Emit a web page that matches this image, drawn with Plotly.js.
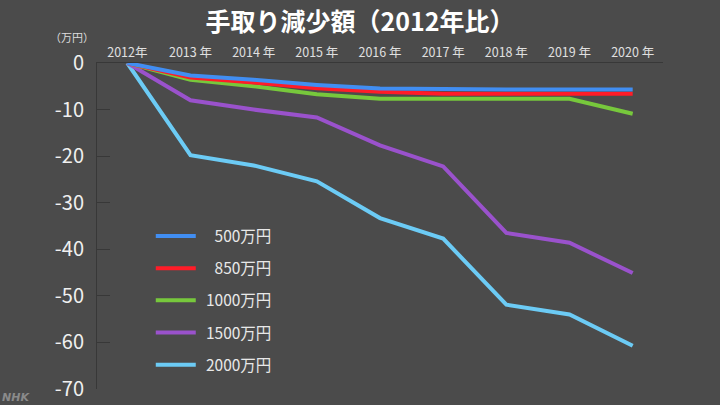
<!DOCTYPE html>
<html>
<head>
<meta charset="utf-8">
<script src="https://cdn.plot.ly/plotly-3.0.1.min.js"></script>
<style>html,body{margin:0;padding:0;background:#4b4b4b;}#chart{width:720px;height:405px;}</style>
</head>
<body>
<div id="chart"></div>
<script>
const years = [2012, 2013, 2014, 2015, 2016, 2017, 2018, 2019, 2020];
const yearLabels = ["2012年", "2013 年", "2014 年", "2015 年", "2016 年", "2017 年", "2018 年", "2019 年", "2020 年"];
const seriesNames = ["\u2004\u2007500万円", "\u2004\u2007850万円", "\u20041000万円", "\u20041500万円", "\u20042000万円"];
const income500 = [0, -2.7, -3.6, -4.7, -5.5, -5.7, -5.7, -5.7, -5.7];
const income850 = [0, -3.1, -4.2, -5.4, -6.2, -6.6, -6.6, -6.6, -6.6];
const income1000 = [0, -3.6, -5.0, -6.7, -7.7, -7.7, -7.8, -7.7, -10.9];
const income1500 = [0, -8.0, -10.0, -11.7, -17.7, -22.2, -36.5, -38.6, -45.1];
const income2000 = [0, -19.8, -22.0, -25.4, -33.3, -37.7, -51.9, -54.0, -60.7];
const yTicks = [0, -10, -20, -30, -40, -50, -60, -70];

const seriesValues = [income500, income850, income1000, income1500, income2000];
const colors = ["#418ef2", "#ff1c28", "#77c83c", "#9a52cc", "#6ccbf5"];

const traces = [];
for (let i = seriesValues.length - 1; i >= 0; i--) {
  traces.push({
    x: years,
    y: seriesValues[i],
    type: "scatter",
    mode: "lines",
    name: seriesNames[i],
    legendgroup: "g" + i,
    legendrank: i + 1,
    line: {color: colors[i], width: 4},
    hoverinfo: "skip"
  });
}

const layout = {
  width: 720,
  height: 405,
  paper_bgcolor: "#4b4b4b",
  plot_bgcolor: "#4b4b4b",
  margin: {l: 97, r: 57, t: 63, b: 16},
  font: {family: "'Noto Sans CJK JP', 'Noto Sans', sans-serif", color: "#e8e8e8"},
  title: {
    text: "<b>手取り減少額（2012年比）</b>",
    font: {size: 25, color: "#ffffff", family: "'Noto Sans CJK JP', sans-serif"},
    xref: "container", x: 0.5, xanchor: "center",
    yref: "container", y: 0.945, yanchor: "middle"
  },
  xaxis: {
    side: "top",
    range: [2011.52, 2020.48],
    tickvals: years,
    ticktext: yearLabels,
    ticks: "",
    showgrid: false,
    zeroline: false,
    showline: true,
    linecolor: "#383838",
    linewidth: 1,
    tickfont: {size: 12.5, color: "#e0e0e0"},
    fixedrange: true
  },
  yaxis: {
    range: [-70, 0],
    tickvals: yTicks,
    ticktext: yTicks.map(String),
    ticks: "inside",
    ticklen: 13,
    tickwidth: 1,
    tickcolor: "#383838",
    showgrid: false,
    zeroline: false,
    showline: true,
    linecolor: "#383838",
    linewidth: 1,
    tickfont: {size: 20, color: "#f0f0f0"},
    ticklabelstandoff: 8,
    fixedrange: true
  },
  showlegend: true,
  legend: {
    x: 0.095, xanchor: "left",
    y: 0.52, yanchor: "top",
    bgcolor: "rgba(0,0,0,0)",
    font: {size: 15.5, color: "#e8e8e8"},
    tracegroupgap: 9,
    traceorder: "grouped",
    itemwidth: 40
  },
  annotations: [
    {text: "（万円）", xref: "paper", yref: "paper", x: -0.045, y: 1.08, xanchor: "center", yanchor: "middle",
     showarrow: false, font: {size: 11, color: "#dddddd"}},
    {text: "<b><i>NHK</i></b>", xref: "paper", yref: "paper", x: -0.171, y: -0.025, xanchor: "left", yanchor: "middle",
     showarrow: false, font: {size: 11, color: "#8a8a8a", family: "'DejaVu Sans', sans-serif"}}
  ]
};

Plotly.newPlot("chart", traces, layout, {displayModeBar: false, staticPlot: true});
</script>
</body>
</html>
